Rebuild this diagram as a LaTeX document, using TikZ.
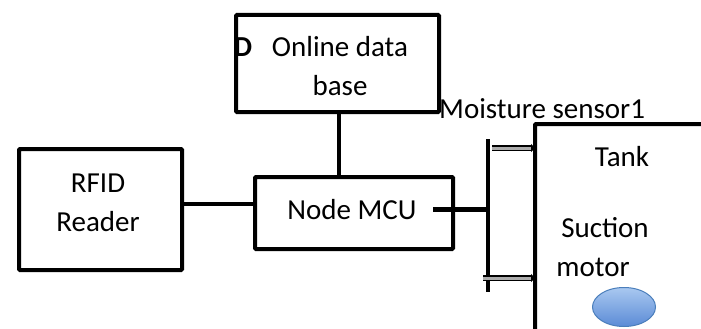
\documentclass[tikz,border=0pt]{standalone}
\usepackage{fontspec}
\setmainfont{Carlito}
\usetikzlibrary{shapes.geometric,arrows.meta}
\definecolor{motorfill}{HTML}{5B8BD6}
\definecolor{motortop}{HTML}{A9C8F0}
\definecolor{motorline}{HTML}{4A7EBB}
\begin{document}
\begin{tikzpicture}[x=1pt,y=-1pt,
  blockbox/.style={draw,line width=4pt,rounded corners=1pt,inner sep=0pt,align=center},
  wire/.style={line width=4pt},
  feed/.style={double=gray!65,double distance=3pt,line width=1.1pt,
               -{Triangle[length=4pt,width=8pt]}},
  lbl/.style={font=\fontsize{29}{39}\selectfont,inner sep=0pt}]
\useasboundingbox (0,0) rectangle (701,329);
\clip (0,0) rectangle (701,329);

% blocks
\node[blockbox,minimum width=203pt,minimum height=97pt,anchor=north west] (db) at (234,13) {};
\node[lbl,align=center] at (340,66) {Online data\\base};
\node[lbl,font=\fontsize{29}{37}\selectfont\bfseries] at (243,47) {D};

\node[blockbox,minimum width=198pt,minimum height=72pt,anchor=north west] (mcu) at (253,175) {};
\node[lbl] at (352,210) {Node MCU};

\node[blockbox,minimum width=163pt,minimum height=121pt,anchor=north west] (rfid) at (17,147) {};
\node[lbl,align=center] at (98,203) {RFID\\Reader};

\node[blockbox,minimum width=200pt,minimum height=240pt,anchor=north west] (tank) at (533,122) {};
\node[lbl] at (622,157) {Tank};
\node[lbl] at (605,228) {Suction};
\node[lbl] at (593,267) {motor};
\node[ellipse,draw=motorline,line width=1pt,top color=motortop,bottom color=motorfill,
      minimum width=63pt,minimum height=39pt,inner sep=0pt] (motor) at (624,307) {};

\node[lbl,anchor=base west] (ms) at (439,118) {Moisture sensor1};

% bus and connection points
\coordinate (busTop) at (488,139);
\coordinate (busBot) at (488,292);
\coordinate (busMid) at (488,209);
\coordinate (mcuOut) at (433,209);
\coordinate (mcuIn) at (257,204);
\coordinate (dbDrop) at (339,110);
\coordinate (mcuTop) at (339,175);
\coordinate (s1a) at (492,148);
\coordinate (s1b) at (535,148);
\coordinate (s2a) at (483,278);
\coordinate (s2b) at (535,278);

% connectors
\draw[wire] (dbDrop) -- (mcuTop);
\draw[wire] (rfid.east |- mcuIn) -- (mcuIn);
\draw[line width=5pt] (mcuOut) -- (busMid);
\draw[wire] (busTop) -- (busBot);
\draw[feed] (s1a) -- (s1b);
\draw[feed] (s2a) -- (s2b);
\end{tikzpicture}
\end{document}
